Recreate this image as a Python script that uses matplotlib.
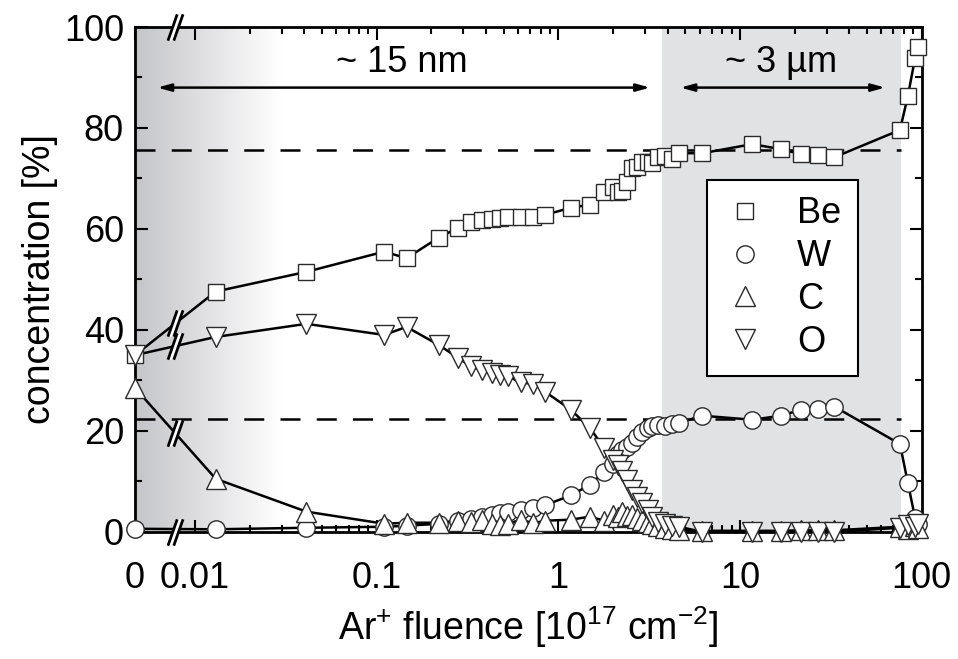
import numpy as np
import matplotlib
matplotlib.use('Agg')
import matplotlib.pyplot as plt
from matplotlib.path import Path
from matplotlib.lines import Line2D
from matplotlib.colors import LinearSegmentedColormap
from matplotlib.ticker import FixedLocator, FixedFormatter

plt.rcParams['font.family'] = ['Liberation Sans', 'DejaVu Sans']
plt.rcParams['mathtext.fontset'] = 'custom'
plt.rcParams['mathtext.rm'] = 'Liberation Sans'
plt.rcParams['mathtext.it'] = 'Liberation Sans'

# Ar+ fluence [1e17 cm^-2], first point is the unsputtered surface (0)
fluence = [0, 0.013, 0.041, 0.11, 0.146, 0.22, 0.28, 0.33, 0.38, 0.43,
           0.48, 0.53, 0.62, 0.73, 0.85, 1.17, 1.49, 1.79, 2.0, 2.12,
           2.25, 2.4, 2.55, 2.72, 2.9, 3.1, 3.3, 3.55, 3.85, 4.2,
           4.6, 6.2, 11.7, 16.8, 21.8, 26.9, 33.1, 76, 84, 92, 96]

be = [35.0, 47.6, 51.5, 55.5, 54.2, 58.3, 60.2, 61.3, 61.8, 62.0,
      62.2, 62.4, 62.4, 62.4, 62.8, 64.2, 64.8, 67.3, 68.3, 67.3,
      67.5, 69.3, 72.1, 72.3, 73.3, 73.3, 73.1, 74.3, 74.5, 73.9,
      75.0, 75.0, 76.8, 75.8, 74.8, 74.6, 74.2, 79.6, 86.3, 93.8, 96.0]

w = [0.6, 0.5, 0.8, 1.0, 1.2, 1.6, 2.2, 2.6, 3.0, 3.4,
     3.8, 4.0, 4.4, 4.8, 5.3, 7.2, 9.3, 11.9, 13.5, 15.4,
     16.2, 16.8, 17.6, 18.8, 19.7, 20.5, 21.0, 21.2, 20.9, 21.4,
     21.6, 23.0, 22.2, 23.0, 24.2, 24.4, 24.8, 17.4, 9.7, 2.8, 1.5]

c = [28.5, 10.5, 4.0, 1.6, 1.8, 1.8, 2.2, 2.0, 2.4, 1.6,
     1.4, 1.6, 2.4, 1.7, 2.2, 2.4, 3.0, 2.2, 3.4, 3.0,
     4.0, 3.2, 3.4, 2.8, 2.4, 2.0, 1.6, 1.2, 0.8, 0.6,
     0.4, 0.2, 0.2, 0.2, 0.3, 0.3, 0.3, 1.0, 0.6, 1.2, 0.8]

o = [35.0, 38.6, 41.2, 39.0, 40.6, 37.0, 34.5, 32.8, 32.0, 31.5,
     31.0, 30.8, 29.6, 29.3, 27.7, 24.2, 20.6, 16.6, 14.2, 13.2,
     12.0, 10.2, 8.3, 6.9, 5.7, 4.4, 3.0, 2.0, 1.5, 1.2,
     1.0, 0.0, 0.0, 0.0, 0.0, 0.0, 0.0, 0.8, 1.4, 1.0, 1.5]

be_mean = 75.6
w_mean = 22.4

# log axis with the zero point squeezed in on the left
U0 = -2.33
def fwd(x):
    x = np.asarray(x, dtype=float)
    with np.errstate(divide='ignore', invalid='ignore'):
        return np.where(x > 0, np.log10(np.abs(x) + 1e-300), U0)

def inv(u):
    return 10.0 ** np.asarray(u, dtype=float)

BREAK_X = 0.0078
FS = 26

fig = plt.figure(figsize=(9.58, 6.59), dpi=100)
ax = fig.add_axes([0.141, 0.193, 0.821, 0.766])
ax.set_xscale('function', functions=(fwd, inv))
ax.set_xlim(0, 100)
ax.set_ylim(0, 100)

# shaded regions
xf = ax.transAxes.inverted().transform(ax.transData.transform((0.03, 50)))[0]
cmap = LinearSegmentedColormap.from_list('g', ['#c4c5c8', '#ffffff'])
ax.imshow(np.linspace(0, 1, 256)[None, :], extent=(0, xf, 0, 1), transform=ax.transAxes,
          cmap=cmap, aspect='auto', zorder=0, interpolation='bilinear')
ax.axvspan(3.7, 77, color='#e1e2e4', lw=0, zorder=0)
ax.set_xlim(0, 100)
ax.set_ylim(0, 100)

ax.hlines([be_mean, w_mean], 0, 77, colors='k', lw=1.8, linestyles=(0, (8, 6.5)), zorder=1)

styles = [('Be', be, 's', 12), ('W', w, 'o', 12.5), ('C', c, '^', 15), ('O', o, 'v', 15)]
handles = []
for name, vals, mk, ms in styles:
    ax.plot(fluence, vals, color='k', lw=1.8, zorder=2, clip_on=False)
    ax.plot(fluence, vals, ls='none', marker=mk, ms=ms, mfc='white', mec='#2a2a2a',
            mew=1.0, zorder=3, clip_on=False)
    handles.append(Line2D([], [], ls='none', marker=mk, ms=ms, mfc='white',
                          mec='#2a2a2a', mew=1.0, label=name))

# axis break marks "//"
d, s = 0.22, 0.35
gap = Path([(-d - s, -1), (-d + s, 1), (d + s, 1), (d - s, -1), (-d - s, -1)],
           [Path.MOVETO, Path.LINETO, Path.LINETO, Path.LINETO, Path.CLOSEPOLY])
slash = Path([(-d - s, -1), (-d + s, 1), (d - s, -1), (d + s, 1)],
             [Path.MOVETO, Path.LINETO, Path.MOVETO, Path.LINETO])
u_f = fwd(fluence[:2])
bx = [BREAK_X, BREAK_X]
by = [0, 100]
for vals in (be, c, o):
    by.append(np.interp(fwd(BREAK_X), u_f, vals[:2]))
    bx.append(BREAK_X)
ax.plot(bx, by, ls='none', marker=gap, ms=19, mfc='white', mec='none', zorder=6, clip_on=False)
ax.plot(bx, by, ls='none', marker=slash, ms=19, mfc='none', mec='k', mew=2.0, zorder=7, clip_on=False)

# depth arrows
arrow = dict(arrowstyle='<|-|>,head_length=0.8,head_width=0.22', color='k', lw=1.8,
             shrinkA=0, shrinkB=0)
ax.annotate('', xy=(0.0062, 88), xytext=(3.2, 88), arrowprops=arrow)
ax.annotate('', xy=(4.7, 88), xytext=(63, 88), arrowprops=arrow)
ax.text(0.137, 93, '~ 15 nm', ha='center', va='center', fontsize=FS)
ax.text(16.8, 93, '~ 3 µm', ha='center', va='center', fontsize=FS)

ax.xaxis.set_major_locator(FixedLocator([0, 0.01, 0.1, 1, 10, 100]))
ax.xaxis.set_major_formatter(FixedFormatter(['0', '0.01', '0.1', '1', '10', '100']))
ax.xaxis.set_minor_locator(FixedLocator([k * 10.0 ** e for e in (-2, -1, 0, 1) for k in range(2, 10)]))
ax.set_yticks(np.arange(0, 101, 20))
ax.set_yticks(np.arange(10, 100, 20), minor=True)
ax.tick_params(which='both', direction='in', top=True, right=True, width=1.5, labelsize=FS)
ax.tick_params(which='major', length=9)
ax.tick_params(axis='x', which='major', pad=21)
ax.tick_params(axis='y', which='major', pad=8)
ax.tick_params(which='minor', length=5)
for sp in ax.spines.values():
    sp.set_linewidth(2)

ax.set_xlabel(r'Ar$^{\mathrm{+}}$ fluence [10$^{\mathrm{17}}$ cm$^{\mathrm{-2}}$]', fontsize=27, labelpad=6)
ax.set_ylabel('concentration [%]', fontsize=27, labelpad=4)

leg = ax.legend(handles=handles, loc='upper left', bbox_to_anchor=(0.727, 0.697),
                fontsize=FS, frameon=True, fancybox=False, framealpha=1, edgecolor='k',
                handlelength=1.2, handletextpad=0.85, labelspacing=0.22, borderpad=0.45,
                borderaxespad=0)
leg.get_frame().set_linewidth(1.5)
leg.set_zorder(8)

fig.savefig('out.png', dpi=100)
